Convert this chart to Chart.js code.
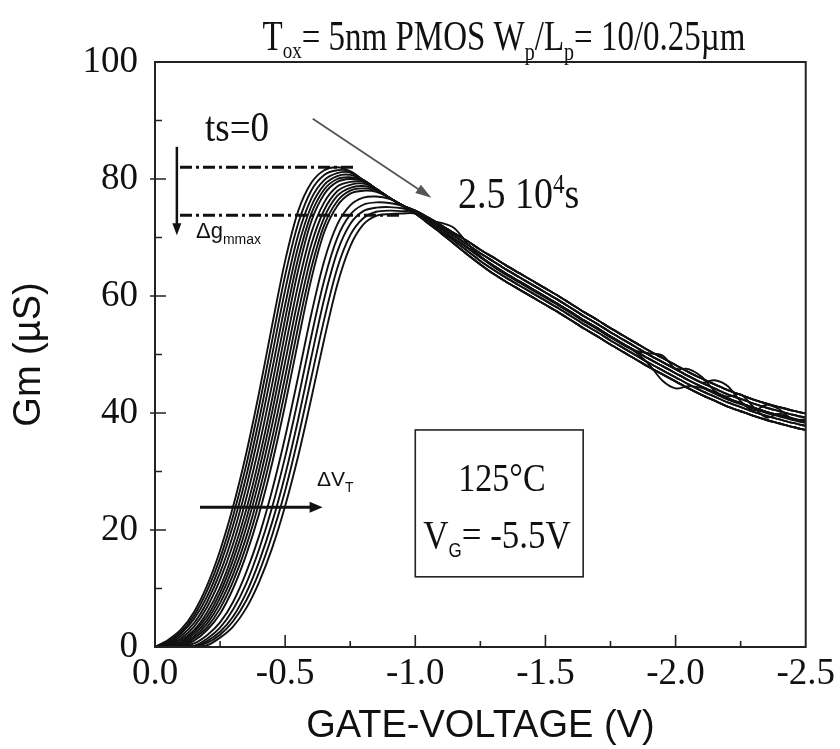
<!DOCTYPE html>
<html>
<head>
<meta charset="utf-8">
<script src="https://cdn.jsdelivr.net/npm/chart.js@4.4.0/dist/chart.umd.min.js"></script>
<style>
  html, body { margin: 0; padding: 0; background: #fff; }
  #wrap { width: 840px; height: 749px; }
</style>
</head>
<body>
<div id="wrap"><canvas id="gmChart" width="840" height="749"></canvas></div>
<script>
// gate voltage (V): rising part, then the common tail
const riseV = [0, -0.05, -0.1, -0.15, -0.2, -0.25, -0.3, -0.35, -0.4, -0.45,
  -0.5, -0.55, -0.6, -0.65, -0.7, -0.75, -0.8, -0.85, -0.9, -0.95];
const tailV = [-1.0, -1.05, -1.1, -1.15, -1.2, -1.25, -1.3, -1.35, -1.4, -1.45,
  -1.5, -1.55, -1.6, -1.65, -1.7, -1.75, -1.8, -1.85, -1.9, -1.95, -2.0,
  -2.05, -2.1, -2.15, -2.2, -2.25, -2.3, -2.35, -2.4, -2.45, -2.5];

// Gm (µS) on riseV, one array per stress time (ts=0 first, 2.5e4 s last)
const gmT00 = [0, 1.2, 3, 6, 10.5, 16.5, 24, 33, 43.5, 55, 66, 74.5, 79.3, 81.5, 82, 81.3, 79.8, 78.3, 76.8, 75.5];
const gmT01 = [0, 1.0, 2.6, 5.4, 9.6, 15.2, 22.4, 31.0, 41.2, 52.4, 63.5, 72.4, 78.0, 80.7, 81.5, 81.3, 79.8, 78.3, 76.8, 75.5];
const gmT02 = [0, 0.7, 2.3, 4.8, 8.6, 14.0, 20.8, 29.1, 38.9, 49.9, 61.0, 70.4, 76.6, 79.8, 81.0, 81.1, 79.8, 78.3, 76.8, 75.5];
const gmT03 = [0, 0.6, 1.9, 4.1, 7.7, 12.7, 19.2, 27.2, 36.7, 47.4, 58.5, 68.4, 75.3, 79.0, 80.5, 80.7, 79.8, 78.3, 76.8, 75.5];
const gmT04 = [0, 0.5, 1.5, 3.5, 6.8, 11.5, 17.6, 25.3, 34.4, 44.9, 56.1, 66.4, 74.0, 78.2, 80.0, 80.3, 79.8, 78.3, 76.8, 75.5];
const gmT05 = [0, 0.3, 1.2, 2.9, 5.9, 10.2, 16.1, 23.4, 32.2, 42.4, 53.7, 64.4, 72.7, 77.4, 79.5, 80.0, 79.7, 78.3, 76.8, 75.5];
const gmT06 = [0, 0.3, 0.9, 2.6, 5.2, 9.3, 14.9, 21.8, 30.3, 40.2, 51.2, 61.9, 70.7, 76.0, 78.7, 79.5, 79.5, 78.3, 76.8, 75.5];
const gmT07 = [0, 0.2, 0.7, 2.2, 4.6, 8.4, 13.6, 20.3, 28.4, 38.0, 48.7, 59.5, 68.7, 74.7, 77.9, 79.0, 79.2, 78.3, 76.8, 75.5];
const gmT08 = [0, 0.2, 0.5, 1.8, 4.0, 7.5, 12.4, 18.7, 26.5, 35.7, 46.2, 57.1, 66.7, 73.4, 77.1, 78.5, 78.8, 78.2, 76.8, 75.5];
const gmT09 = [0, 0.1, 0.2, 1.5, 3.4, 6.6, 11.2, 17.2, 24.7, 33.6, 43.8, 54.7, 64.7, 72.1, 76.2, 78.0, 78.4, 78.0, 76.8, 75.5];
const gmT10 = [0, 0.1, 0.3, 1.1, 2.9, 5.7, 10.0, 15.7, 22.8, 31.4, 41.4, 52.3, 62.8, 70.9, 75.4, 77.5, 78.0, 77.8, 76.8, 75.5];
const gmT11 = [0, 0.1, 0.2, 0.6, 2.0, 4.2, 7.7, 12.7, 19.0, 26.8, 35.9, 46.2, 56.8, 66.0, 72.2, 75.5, 76.8, 77.0, 76.6, 75.5];
const gmT12 = [0, 0.1, 0.1, 0.2, 1.4, 3.3, 6.4, 10.8, 16.7, 23.9, 32.5, 42.4, 53.0, 62.7, 69.9, 73.9, 75.6, 76.0, 75.9, 75.4];
const gmT13 = [0, 0.1, 0.1, 0.1, 1.0, 2.6, 5.2, 9.2, 14.6, 21.3, 29.4, 38.9, 49.4, 59.5, 67.5, 72.3, 74.5, 75.1, 75.2, 75.0];
const gmT14 = [0, 0.1, 0.1, 0.2, 0.7, 2.1, 4.4, 7.9, 12.8, 19.1, 26.7, 35.8, 45.9, 56.0, 64.7, 70.4, 73.3, 74.4, 74.6, 74.5];
const gmT15 = [0, 0.1, 0.1, 0.1, 0.3, 1.6, 3.5, 6.6, 11.1, 16.9, 24.1, 32.6, 42.4, 52.6, 61.9, 68.5, 72.2, 73.7, 74.0, 74.1];

// Gm (µS) on tailV, where all curves merge into one thick band
const tailA = [74.6, 73.4, 72.1, 70.7, 69.4, 67.9, 66.6, 65.2, 63.9, 62.6, 61.3, 60.0, 58.6, 57.2, 55.9, 54.5,
  53.2, 51.9, 50.6, 49.4, 48.2, 47.0, 45.9, 44.9, 43.9, 43.1, 42.3, 41.6, 41.0, 40.4, 39.9];
const tailB = [74.5, 73.1, 71.8, 70.3, 68.8, 67.3, 65.9, 64.5, 63.2, 61.9, 60.6, 59.3, 57.9, 56.5, 55.2, 53.8,
  52.5, 51.2, 49.9, 48.7, 47.5, 46.3, 45.2, 44.2, 43.2, 42.4, 41.6, 40.9, 40.3, 39.7, 39.2];
const tailC = [74.3, 72.9, 71.4, 69.8, 68.3, 66.7, 65.2, 63.8, 62.5, 61.2, 59.9, 58.6, 57.2, 55.8, 54.5, 53.1,
  51.8, 50.5, 49.2, 48.0, 46.8, 45.6, 44.5, 43.5, 42.5, 41.7, 40.9, 40.2, 39.6, 39.0, 38.5];
const tailD = [74.2, 72.6, 71.0, 69.4, 67.7, 66.0, 64.5, 63.1, 61.8, 60.5, 59.2, 57.9, 56.5, 55.1, 53.8, 52.4,
  51.1, 49.8, 48.5, 47.3, 46.1, 44.9, 43.8, 42.8, 41.8, 41.0, 40.2, 39.5, 38.9, 38.3, 37.8];
const tailE = [74.1, 72.4, 70.7, 68.9, 67.1, 65.4, 63.8, 62.4, 61.1, 59.8, 58.5, 57.2, 55.8, 54.4, 53.1, 51.7,
  50.4, 49.1, 47.8, 46.6, 45.4, 44.2, 43.1, 42.1, 41.1, 40.3, 39.5, 38.8, 38.2, 37.6, 37.1];
// noisy sweeps with small loops
const tailWigA = [74.3, 73.0, 72.5, 71.6, 69.0, 66.8, 65.0, 63.6, 62.3, 61.0, 59.7, 58.4, 57.0, 55.6, 54.3, 52.9,
  51.6, 50.3, 48.2, 45.5, 44.2, 44.6, 44.3, 43.3, 42.3, 41.5, 40.7, 40.0, 39.4, 38.8, 38.3];
const tailWigB = [74.4, 72.9, 71.4, 69.8, 68.2, 66.6, 65.1, 63.7, 62.4, 61.1, 59.8, 58.5, 57.1, 55.7, 54.4, 53.0,
  51.7, 50.6, 50.2, 49.8, 47.6, 47.5, 46.2, 43.8, 42.8, 43.2, 41.0, 39.2, 39.9, 39.1, 38.6];
const tailWigC = [74.5, 73.1, 71.8, 70.3, 68.8, 67.3, 65.9, 64.5, 63.2, 61.9, 60.6, 59.3, 57.9, 56.5, 55.2, 53.8,
  52.5, 51.2, 49.9, 48.7, 47.5, 46.3, 45.2, 45.6, 44.6, 42.0, 40.4, 41.4, 40.6, 38.9, 38.9];

const riseCurves = [gmT00, gmT01, gmT02, gmT03, gmT04, gmT05, gmT06, gmT07,
  gmT08, gmT09, gmT10, gmT11, gmT12, gmT13, gmT14, gmT15];
const tailCurves = [tailA, tailC, tailE, tailB, tailD, tailA, tailWigA, tailC,
  tailE, tailB, tailD, tailWigB, tailA, tailC, tailWigC, tailE];

const xTicks = [0, -0.5, -1.0, -1.5, -2.0, -2.5];
const yTicks = [0, 20, 40, 60, 80, 100];

const SERIF = "'Liberation Serif', 'Times New Roman', serif";
const SANS = "'Liberation Sans', Arial, sans-serif";

const datasets = riseCurves.map(function(rise, i) {
    const pts = riseV.map((v, j) => ({x: v, y: rise[j]}))
        .concat(tailV.map((v, j) => ({x: v, y: tailCurves[i][j]})));
    return {
        label: 't' + i,
        data: pts,
        borderColor: '#111',
        borderWidth: 1.9,
        pointRadius: 0,
        tension: 0.3,
        fill: false
    };
});

// the scanned serif text is a bit taller than normal
function txt(ctx, s, x, y, size, fam, sy) {
    ctx.save();
    ctx.translate(x, y);
    ctx.scale(1, sy);
    ctx.font = size + 'px ' + fam;
    ctx.textAlign = 'left';
    ctx.textBaseline = 'alphabetic';
    ctx.fillText(s, 0, 0);
    ctx.restore();
}

// pieces: [text, size, family, dy]
function runs(ctx, parts, x, y, align, sy) {
    let w = 0;
    parts.forEach(p => { ctx.font = p[1] + 'px ' + p[2]; w += ctx.measureText(p[0]).width; });
    let cx = align === 'left' ? x : x - w / 2;
    parts.forEach(p => {
        ctx.font = p[1] + 'px ' + p[2];
        txt(ctx, p[0], cx, y + (p[3] || 0), p[1], p[2], sy || 1);
        cx += ctx.measureText(p[0]).width;
    });
}

function arrow(ctx, x1, y1, x2, y2, color, lw, hl, hw) {
    const a = Math.atan2(y2 - y1, x2 - x1);
    ctx.save();
    ctx.strokeStyle = color;
    ctx.fillStyle = color;
    ctx.lineWidth = lw;
    ctx.beginPath();
    ctx.moveTo(x1, y1);
    ctx.lineTo(x2 - Math.cos(a) * hl * 0.8, y2 - Math.sin(a) * hl * 0.8);
    ctx.stroke();
    ctx.beginPath();
    ctx.moveTo(x2, y2);
    ctx.lineTo(x2 - Math.cos(a) * hl - Math.sin(a) * hw, y2 - Math.sin(a) * hl + Math.cos(a) * hw);
    ctx.lineTo(x2 - Math.cos(a) * hl + Math.sin(a) * hw, y2 - Math.sin(a) * hl - Math.cos(a) * hw);
    ctx.closePath();
    ctx.fill();
    ctx.restore();
}

// box around the plot and inward tick marks
const frameTicks = {
    id: 'frameTicks',
    afterDatasetsDraw(chart) {
        const {ctx, chartArea: a, scales: {x, y}} = chart;
        ctx.save();
        ctx.strokeStyle = '#222';
        ctx.lineWidth = 2;
        ctx.strokeRect(a.left, a.top, a.right - a.left, a.bottom - a.top);
        ctx.lineWidth = 1.6;
        ctx.beginPath();
        for (let i = 1; i < 10; i++) {
            const xp = x.getPixelForValue(-0.25 * i);
            const len = i % 2 === 0 ? 12 : 6;
            ctx.moveTo(xp, a.bottom);
            ctx.lineTo(xp, a.bottom - len);
        }
        for (let g = 10; g < 100; g += 10) {
            const yp = y.getPixelForValue(g);
            if (g % 20 === 0) { ctx.moveTo(a.left - 5, yp); ctx.lineTo(a.left + 11, yp); }
            else { ctx.moveTo(a.left, yp); ctx.lineTo(a.left + 7, yp); }
        }
        ctx.stroke();
        ctx.restore();
    }
};

// title, arrows, dash-dot markers and the condition box
const notes = {
    id: 'notes',
    afterDraw(chart) {
        const {ctx, scales: {x, y}} = chart;
        const px = v => x.getPixelForValue(v);
        const py = g => y.getPixelForValue(g);
        ctx.save();
        ctx.fillStyle = '#111';

        runs(ctx, [['T', 33, SERIF], ['ox', 19, SERIF, 8], ['= 5nm PMOS W', 33, SERIF],
            ['p', 20, SERIF, 10], ['/L', 33, SERIF], ['p', 20, SERIF, 10], ['= 10/0.25µm', 33, SERIF]],
            504, 50, 'center', 1.25);

        // delta gm max markers
        ctx.strokeStyle = '#111';
        ctx.lineWidth = 3;
        ctx.setLineDash([12, 4, 3, 4]);
        ctx.beginPath();
        ctx.moveTo(px(-0.096), py(82)); ctx.lineTo(px(-0.775), py(82));
        ctx.moveTo(px(-0.096), py(73.8)); ctx.lineTo(px(-0.951), py(73.8));
        ctx.stroke();
        ctx.setLineDash([]);
        arrow(ctx, px(-0.084), py(85.5), px(-0.084), py(70.4), '#111', 2.5, 12, 4.5);

        runs(ctx, [['ts=0', 37, SERIF]], 205, 141, 'left', 1.15);
        arrow(ctx, px(-0.606), py(90.3), px(-1.062), py(76.8), '#555', 1.8, 16, 5);
        runs(ctx, [['2.5 10', 38, SERIF], ['4', 23, SERIF, -15], ['s', 38, SERIF]], 458, 208, 'left', 1.17);

        runs(ctx, [['\u0394g', 22, SANS], ['mmax', 14, SANS, 6]], 196, 238, 'left', 1);

        arrow(ctx, px(-0.173), py(23.9), px(-0.644), py(23.9), '#111', 3, 13, 5.5);
        runs(ctx, [['\u0394V', 21, SANS], ['T', 14, SANS, 6]], 317, 486, 'left', 1);

        ctx.strokeStyle = '#222';
        ctx.lineWidth = 1.6;
        ctx.strokeRect(px(-1.0), py(37.1), px(-1.645) - px(-1.0), py(12.0) - py(37.1));
        runs(ctx, [['125\u00b0C', 34, SERIF]], 502, 491, 'center', 1.15);
        runs(ctx, [['V', 35, SERIF], ['G', 17, SANS, 9], ['= -5.5V', 35, SERIF]], 497, 548, 'center', 1.15);
        ctx.restore();
    }
};

new Chart(document.getElementById('gmChart').getContext('2d'), {
    type: 'line',
    data: { datasets: datasets },
    options: {
        responsive: false,
        animation: false,
        events: [],
        layout: { padding: { top: 62, right: 33, left: 0, bottom: 0 } },
        plugins: {
            legend: { display: false },
            tooltip: { enabled: false }
        },
        scales: {
            x: {
                type: 'linear',
                min: -2.5,
                max: 0,
                reverse: true,
                afterFit: s => { s.height = 102; },
                afterBuildTicks: s => { s.ticks = xTicks.map(v => ({value: v})); },
                grid: { display: false, drawTicks: false },
                border: { display: false },
                ticks: {
                    callback: v => v.toFixed(1),
                    font: { family: SERIF, size: 37 },
                    color: '#111',
                    padding: 5,
                    maxRotation: 0,
                    autoSkip: false
                },
                title: {
                    display: true,
                    text: 'GATE-VOLTAGE (V)',
                    font: { family: SANS, size: 38 },
                    color: '#111',
                    padding: { top: 0, bottom: 0 }
                }
            },
            y: {
                min: 0,
                max: 100,
                afterFit: s => { s.width = 155; },
                afterBuildTicks: s => { s.ticks = yTicks.map(v => ({value: v})); },
                grid: { display: false, drawTicks: false },
                border: { display: false },
                ticks: {
                    font: { family: SERIF, size: 37 },
                    color: '#111',
                    padding: 17
                },
                title: {
                    display: true,
                    text: 'Gm (\u00b5S)',
                    font: { family: SANS, size: 38 },
                    color: '#111',
                    padding: { top: 7 }
                }
            }
        }
    },
    plugins: [frameTicks, notes]
});
</script>
</body>
</html>
